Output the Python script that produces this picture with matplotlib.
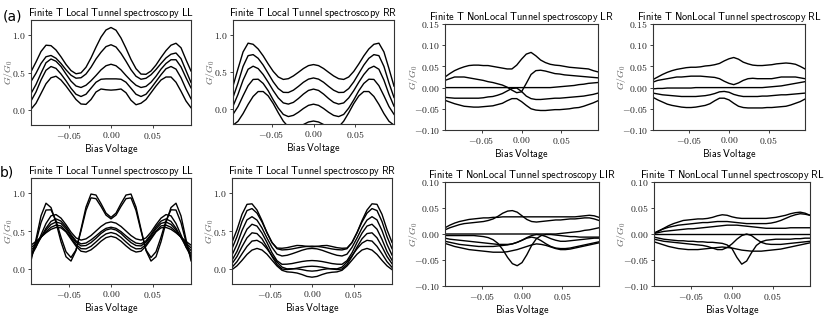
import matplotlib

matplotlib.use("Agg")

import matplotlib.pyplot as plt
from matplotlib.ticker import FuncFormatter

plt.rcParams["mathtext.fontset"] = "cm"

# bias grid shared by every curve
BIAS = [-0.096, -0.090, -0.084, -0.078, -0.072, -0.066, -0.060, -0.054, -0.048, -0.042, -0.036,
        -0.030, -0.024, -0.018, -0.012, -0.006, 0.0, 0.006, 0.012, 0.018, 0.024, 0.030,
        0.036, 0.042, 0.048, 0.054, 0.060, 0.066, 0.072, 0.078, 0.084, 0.090, 0.096]

# ---- row (a) ----
A_LL_1 = [0.01, 0.09, 0.22, 0.35, 0.43, 0.45, 0.40, 0.32, 0.23, 0.14, 0.08, 0.075, 0.14, 0.24, 0.28, 0.27, 0.265,
          0.27, 0.28, 0.23, 0.13, 0.07, 0.09, 0.14, 0.23, 0.32, 0.40, 0.44, 0.44, 0.37, 0.25, 0.12, 0.03]
A_LL_2 = [0.12, 0.24, 0.40, 0.53, 0.58, 0.555, 0.48, 0.39, 0.29, 0.21, 0.18, 0.21, 0.29, 0.37, 0.41, 0.415, 0.415,
          0.415, 0.41, 0.37, 0.29, 0.21, 0.18, 0.21, 0.29, 0.38, 0.47, 0.55, 0.58, 0.545, 0.43, 0.28, 0.15]
A_LL_3 = [0.22, 0.34, 0.49, 0.63, 0.68, 0.65, 0.58, 0.48, 0.385, 0.32, 0.30, 0.33, 0.39, 0.46, 0.535, 0.59, 0.61,
          0.59, 0.535, 0.46, 0.39, 0.33, 0.30, 0.315, 0.37, 0.45, 0.545, 0.62, 0.67, 0.67, 0.575, 0.43, 0.295]
A_LL_4 = [0.38, 0.49, 0.62, 0.71, 0.727, 0.69, 0.62, 0.536, 0.464, 0.424, 0.43, 0.48, 0.57, 0.68, 0.77, 0.845, 0.87,
          0.84, 0.755, 0.65, 0.537, 0.45, 0.41, 0.423, 0.47, 0.54, 0.62, 0.694, 0.744, 0.76, 0.685, 0.525, 0.367]
A_LL_5 = [0.51, 0.64, 0.78, 0.864, 0.858, 0.80, 0.709, 0.608, 0.526, 0.483, 0.495, 0.57, 0.694, 0.838, 0.972, 1.067,
          1.10, 1.064, 0.96, 0.823, 0.674, 0.551, 0.479, 0.476, 0.52, 0.60, 0.70, 0.792, 0.864, 0.89, 0.83, 0.67, 0.52]

A_RR_1 = [0.31, 0.545, 0.77, 0.888, 0.873, 0.81, 0.717, 0.608, 0.508, 0.433, 0.40, 0.41, 0.447, 0.496, 0.547, 0.586,
          0.60, 0.586, 0.547, 0.496, 0.447, 0.41, 0.40, 0.433, 0.508, 0.608, 0.717, 0.81, 0.873, 0.888, 0.77, 0.545, 0.31]
A_RR_2 = [0.157, 0.353, 0.575, 0.72, 0.734, 0.684, 0.593, 0.48, 0.367, 0.277, 0.226, 0.224, 0.255, 0.306, 0.362, 0.404,
          0.42, 0.404, 0.362, 0.306, 0.255, 0.224, 0.226, 0.277, 0.367, 0.48, 0.593, 0.684, 0.734, 0.72, 0.575, 0.353, 0.157]
A_RR_3 = [0.04, 0.20, 0.39, 0.537, 0.578, 0.546, 0.466, 0.362, 0.249, 0.151, 0.084, 0.068, 0.091, 0.143, 0.203, 0.252,
          0.27, 0.252, 0.203, 0.143, 0.091, 0.068, 0.084, 0.151, 0.249, 0.362, 0.466, 0.546, 0.578, 0.537, 0.39, 0.20, 0.04]
A_RR_4 = [-0.07, 0.035, 0.18, 0.316, 0.40, 0.403, 0.346, 0.247, 0.124, 0.014, -0.071, -0.10, -0.084, -0.042, 0.009, 0.051,
          0.067, 0.051, 0.009, -0.042, -0.084, -0.10, -0.071, 0.014, 0.124, 0.247, 0.346, 0.403, 0.40, 0.316, 0.18, 0.035, -0.07]
A_RR_5 = [-0.216, -0.163, -0.06, 0.064, 0.171, 0.237, 0.237, 0.178, 0.075, -0.049, -0.162, -0.239, -0.26, -0.242, -0.207,
          -0.173, -0.16, -0.173, -0.207, -0.242, -0.26, -0.239, -0.162, -0.049, 0.075, 0.178, 0.237, 0.237, 0.171, 0.064,
          -0.06, -0.163, -0.216]

A_LR_1 = [0.025, 0.033, 0.040, 0.045, 0.049, 0.052, 0.053, 0.053, 0.052, 0.052, 0.050, 0.048, 0.046, 0.044, 0.044, 0.053,
          0.067, 0.079, 0.083, 0.075, 0.065, 0.059, 0.055, 0.053, 0.052, 0.050, 0.048, 0.047, 0.046, 0.045, 0.044, 0.040, 0.037]
A_LR_2 = [0.017, 0.021, 0.025, 0.025, 0.025, 0.023, 0.021, 0.019, 0.017, 0.014, 0.012, 0.009, 0.006, 0.001, -0.006, -0.012,
          -0.010, 0.010, 0.031, 0.040, 0.041, 0.039, 0.036, 0.033, 0.032, 0.030, 0.029, 0.028, 0.027, 0.026, 0.025, 0.024, 0.023]
A_LR_3 = [0.0, 0.0, 0.0, 0.0, 0.0, 0.0, 0.0, 0.0, 0.0, 0.0, 0.0, 0.0, 0.0, 0.0, 0.0, 0.0, 0.0,
          0.0, 0.0, 0.0, 0.0, 0.0, 0.0, 0.001, 0.002, 0.003, 0.004, 0.005, 0.007, 0.008, 0.010, 0.011, 0.012]
A_LR_4 = [-0.023, -0.024, -0.025, -0.025, -0.025, -0.025, -0.025, -0.025, -0.024, -0.022, -0.021, -0.018, -0.014, -0.008,
          -0.002, -0.001, -0.009, -0.020, -0.026, -0.028, -0.028, -0.027, -0.026, -0.025, -0.025, -0.024, -0.023, -0.022,
          -0.021, -0.020, -0.018, -0.016, -0.013]
A_LR_5 = [-0.030, -0.034, -0.038, -0.041, -0.044, -0.045, -0.046, -0.046, -0.045, -0.044, -0.043, -0.040, -0.037, -0.031,
          -0.026, -0.026, -0.033, -0.042, -0.050, -0.053, -0.054, -0.054, -0.053, -0.052, -0.052, -0.051, -0.050, -0.048,
          -0.047, -0.044, -0.040, -0.036, -0.031]

A_RL_1 = [0.019, 0.025, 0.031, 0.036, 0.040, 0.043, 0.045, 0.047, 0.048, 0.048, 0.049, 0.051, 0.052, 0.054, 0.057, 0.063,
          0.068, 0.071, 0.067, 0.060, 0.056, 0.053, 0.052, 0.052, 0.053, 0.054, 0.056, 0.057, 0.058, 0.057, 0.055, 0.050, 0.044]
A_RL_2 = [0.013, 0.017, 0.019, 0.021, 0.023, 0.025, 0.025, 0.026, 0.027, 0.027, 0.027, 0.026, 0.025, 0.024, 0.021, 0.015,
          0.010, 0.007, 0.011, 0.017, 0.021, 0.022, 0.021, 0.021, 0.021, 0.021, 0.023, 0.025, 0.025, 0.025, 0.025, 0.023, 0.021]
A_RL_3 = [-0.003, -0.002, -0.002, -0.001, -0.001, -0.001, -0.001, -0.001, -0.001, 0.0, 0.0, 0.0, 0.0, 0.0, 0.0, 0.0, 0.0,
          0.0, 0.0, 0.0, 0.0, 0.0, 0.0, 0.0, 0.001, 0.002, 0.003, 0.004, 0.006, 0.008, 0.010, 0.012, 0.014]
A_RL_4 = [-0.013, -0.015, -0.017, -0.018, -0.019, -0.020, -0.021, -0.021, -0.021, -0.021, -0.020, -0.019, -0.017, -0.014,
          -0.010, -0.009, -0.011, -0.016, -0.019, -0.021, -0.021, -0.021, -0.021, -0.020, -0.020, -0.019, -0.018, -0.017,
          -0.017, -0.016, -0.015, -0.014, -0.013]
A_RL_5 = [-0.023, -0.029, -0.034, -0.039, -0.042, -0.044, -0.046, -0.047, -0.047, -0.046, -0.044, -0.042, -0.038, -0.031,
          -0.025, -0.025, -0.029, -0.037, -0.044, -0.047, -0.048, -0.048, -0.048, -0.048, -0.047, -0.047, -0.046, -0.045,
          -0.044, -0.041, -0.037, -0.033, -0.027]

# ---- row (b) ----
B_LL_1 = [0.106, 0.389, 0.70, 0.867, 0.81, 0.612, 0.358, 0.16, 0.103, 0.241, 0.523, 0.816, 0.988, 0.975, 0.862, 0.736,
          0.68, 0.736, 0.862, 0.975, 0.988, 0.816, 0.523, 0.241, 0.103, 0.16, 0.358, 0.612, 0.81, 0.867, 0.70, 0.389, 0.106]
B_LL_2 = [0.143, 0.354, 0.61, 0.777, 0.78, 0.638, 0.418, 0.226, 0.15, 0.25, 0.502, 0.772, 0.938, 0.927, 0.825, 0.71,
          0.66, 0.71, 0.825, 0.927, 0.938, 0.772, 0.502, 0.25, 0.15, 0.226, 0.418, 0.638, 0.78, 0.777, 0.61, 0.354, 0.143]
B_LL_3 = [0.164, 0.286, 0.448, 0.599, 0.70, 0.717, 0.67, 0.583, 0.485, 0.409, 0.38, 0.396, 0.44, 0.50, 0.56, 0.604,
          0.62, 0.604, 0.56, 0.50, 0.44, 0.396, 0.38, 0.409, 0.485, 0.583, 0.67, 0.717, 0.70, 0.599, 0.448, 0.286, 0.164]
B_LL_4 = [0.203, 0.292, 0.415, 0.537, 0.627, 0.66, 0.631, 0.554, 0.453, 0.37, 0.33, 0.341, 0.382, 0.435, 0.492, 0.535,
          0.55, 0.535, 0.492, 0.435, 0.382, 0.341, 0.33, 0.37, 0.453, 0.554, 0.631, 0.66, 0.627, 0.537, 0.415, 0.292, 0.203]
B_LL_5 = [0.242, 0.32, 0.418, 0.515, 0.587, 0.619, 0.60, 0.53, 0.436, 0.351, 0.303, 0.308, 0.347, 0.404, 0.467, 0.513,
          0.53, 0.513, 0.467, 0.404, 0.347, 0.308, 0.303, 0.351, 0.436, 0.53, 0.60, 0.619, 0.587, 0.515, 0.418, 0.32, 0.242]
B_LL_6 = [0.278, 0.34, 0.416, 0.491, 0.549, 0.578, 0.567, 0.50, 0.412, 0.322, 0.267, 0.264, 0.298, 0.355, 0.416, 0.462,
          0.48, 0.462, 0.416, 0.355, 0.298, 0.264, 0.267, 0.322, 0.412, 0.50, 0.567, 0.578, 0.549, 0.491, 0.416, 0.34, 0.278]
B_LL_7 = [0.314, 0.362, 0.42, 0.476, 0.522, 0.547, 0.542, 0.488, 0.393, 0.30, 0.233, 0.222, 0.251, 0.304, 0.365, 0.412,
          0.43, 0.412, 0.365, 0.304, 0.251, 0.222, 0.233, 0.30, 0.393, 0.488, 0.542, 0.547, 0.522, 0.476, 0.42, 0.362, 0.314]

B_RR_1 = [0.35, 0.517, 0.72, 0.852, 0.859, 0.777, 0.637, 0.477, 0.346, 0.275, 0.272, 0.28, 0.295, 0.309, 0.306, 0.296,
          0.29, 0.296, 0.306, 0.309, 0.295, 0.28, 0.272, 0.275, 0.346, 0.477, 0.637, 0.777, 0.859, 0.852, 0.72, 0.517, 0.35]
B_RR_2 = [0.267, 0.426, 0.625, 0.77, 0.796, 0.736, 0.619, 0.477, 0.348, 0.266, 0.25, 0.254, 0.263, 0.276, 0.288, 0.297,
          0.30, 0.297, 0.288, 0.276, 0.263, 0.254, 0.25, 0.266, 0.348, 0.477, 0.619, 0.736, 0.796, 0.77, 0.625, 0.426, 0.267]
B_RR_3 = [0.182, 0.324, 0.506, 0.647, 0.689, 0.644, 0.54, 0.407, 0.284, 0.194, 0.17, 0.179, 0.199, 0.222, 0.246, 0.264,
          0.27, 0.264, 0.246, 0.222, 0.199, 0.179, 0.17, 0.194, 0.284, 0.407, 0.54, 0.644, 0.689, 0.647, 0.506, 0.324, 0.182]
B_RR_4 = [0.114, 0.23, 0.389, 0.524, 0.589, 0.565, 0.472, 0.348, 0.212, 0.108, 0.06, 0.062, 0.07, 0.084, 0.097, 0.106,
          0.11, 0.106, 0.097, 0.084, 0.07, 0.062, 0.06, 0.108, 0.212, 0.348, 0.472, 0.565, 0.589, 0.524, 0.389, 0.23, 0.114]
B_RR_5 = [0.068, 0.163, 0.293, 0.41, 0.476, 0.466, 0.397, 0.287, 0.164, 0.058, -0.002, -0.009, -0.002, 0.009, 0.022, 0.031,
          0.035, 0.031, 0.022, 0.009, -0.002, -0.009, -0.002, 0.058, 0.164, 0.287, 0.397, 0.466, 0.476, 0.41, 0.293, 0.163, 0.068]
B_RR_6 = [0.021, 0.095, 0.199, 0.297, 0.367, 0.377, 0.34, 0.265, 0.174, 0.09, 0.023, 0.0, 0.002, 0.0, -0.01, -0.024,
          -0.03, -0.024, -0.01, 0.0, 0.002, 0.0, 0.023, 0.09, 0.174, 0.265, 0.34, 0.377, 0.367, 0.297, 0.199, 0.095, 0.021]
B_RR_7 = [-0.01, 0.04, 0.112, 0.191, 0.248, 0.27, 0.249, 0.193, 0.115, 0.038, -0.019, -0.04, -0.045, -0.055, -0.075, -0.10,
          -0.11, -0.10, -0.075, -0.055, -0.045, -0.04, -0.019, 0.038, 0.115, 0.193, 0.249, 0.27, 0.248, 0.191, 0.112, 0.04, -0.01]

B_LR_1 = [0.012, 0.017, 0.021, 0.024, 0.026, 0.028, 0.029, 0.030, 0.031, 0.031, 0.032, 0.032, 0.033, 0.033, 0.033, 0.033,
          0.033, 0.033, 0.033, 0.033, 0.033, 0.033, 0.033, 0.033, 0.033, 0.033, 0.033, 0.033, 0.034, 0.035, 0.036, 0.035, 0.032]
B_LR_2 = [0.008, 0.012, 0.015, 0.018, 0.020, 0.021, 0.022, 0.023, 0.024, 0.026, 0.029, 0.034, 0.040, 0.044, 0.045, 0.042,
          0.035, 0.028, 0.024, 0.023, 0.024, 0.025, 0.026, 0.027, 0.027, 0.028, 0.029, 0.029, 0.030, 0.031, 0.031, 0.029, 0.026]
B_LR_3 = [0.0, 0.0, 0.0, 0.0, 0.0, 0.0, 0.0, 0.0, 0.0, 0.0, 0.0, 0.0, 0.0, 0.0, 0.0, 0.0, 0.0,
          0.0, 0.0, 0.0, 0.0, 0.0, 0.0, 0.0, 0.001, 0.002, 0.003, 0.004, 0.005, 0.007, 0.008, 0.010, 0.012]
B_LR_4 = [-0.003, -0.003, -0.003, -0.003, -0.003, -0.003, -0.003, -0.004, -0.005, -0.007, -0.011, -0.018, -0.030, -0.045,
          -0.057, -0.061, -0.055, -0.040, -0.022, -0.009, -0.003, -0.001, -0.001, -0.002, -0.003, -0.004, -0.005, -0.005,
          -0.006, -0.006, -0.006, -0.006, -0.006]
B_LR_5 = [-0.008, -0.010, -0.011, -0.012, -0.013, -0.014, -0.015, -0.016, -0.017, -0.018, -0.019, -0.020, -0.020, -0.020,
          -0.019, -0.016, -0.012, -0.007, -0.003, -0.001, -0.002, -0.005, -0.009, -0.012, -0.014, -0.014, -0.013, -0.012,
          -0.011, -0.010, -0.009, -0.008, -0.008]
B_LR_6 = [-0.014, -0.016, -0.018, -0.020, -0.021, -0.022, -0.023, -0.024, -0.024, -0.024, -0.024, -0.023, -0.022, -0.021,
          -0.019, -0.016, -0.012, -0.008, -0.006, -0.008, -0.013, -0.019, -0.024, -0.027, -0.028, -0.028, -0.027, -0.025,
          -0.023, -0.021, -0.019, -0.017, -0.015]
B_LR_7 = [-0.018, -0.021, -0.024, -0.026, -0.028, -0.030, -0.031, -0.032, -0.033, -0.034, -0.035, -0.035, -0.035, -0.034,
          -0.032, -0.030, -0.027, -0.024, -0.021, -0.019, -0.020, -0.022, -0.025, -0.028, -0.030, -0.030, -0.029, -0.027,
          -0.025, -0.023, -0.021, -0.019, -0.017]

B_RL_1 = [0.001, 0.006, 0.011, 0.016, 0.020, 0.023, 0.026, 0.027, 0.028, 0.029, 0.029, 0.030, 0.032, 0.035, 0.037, 0.036,
          0.033, 0.031, 0.030, 0.030, 0.030, 0.030, 0.030, 0.030, 0.031, 0.032, 0.034, 0.036, 0.039, 0.041, 0.042, 0.040, 0.036]
B_RL_2 = [0.002, 0.006, 0.010, 0.013, 0.015, 0.017, 0.018, 0.019, 0.020, 0.021, 0.022, 0.022, 0.023, 0.024, 0.024, 0.024,
          0.023, 0.022, 0.021, 0.020, 0.020, 0.020, 0.020, 0.020, 0.021, 0.023, 0.026, 0.030, 0.034, 0.037, 0.039, 0.038, 0.036]
B_RL_3 = [0.001, 0.003, 0.005, 0.006, 0.007, 0.008, 0.009, 0.010, 0.010, 0.011, 0.012, 0.013, 0.014, 0.015, 0.016, 0.017,
          0.017, 0.017, 0.016, 0.015, 0.014, 0.013, 0.012, 0.011, 0.011, 0.011, 0.011, 0.011, 0.012, 0.012, 0.012, 0.012, 0.012]
B_RL_4 = [0.0, 0.0, 0.0, 0.0, 0.0, 0.0, 0.0, 0.0, 0.0, 0.0, 0.0, 0.0, 0.0, 0.0, 0.0, 0.0, 0.0,
          0.0, 0.0, 0.0, 0.0, 0.0, 0.0, 0.0, 0.0, 0.0, 0.0, 0.0, 0.0, 0.0, 0.0, 0.0, 0.0]
B_RL_5 = [-0.006, -0.008, -0.010, -0.011, -0.012, -0.013, -0.013, -0.014, -0.014, -0.015, -0.015, -0.016, -0.016, -0.017,
          -0.018, -0.021, -0.028, -0.045, -0.058, -0.052, -0.036, -0.022, -0.015, -0.012, -0.011, -0.010, -0.010, -0.010,
          -0.010, -0.009, -0.009, -0.008, -0.008]
B_RL_6 = [-0.010, -0.012, -0.014, -0.015, -0.016, -0.017, -0.018, -0.019, -0.020, -0.021, -0.022, -0.024, -0.027, -0.030,
          -0.030, -0.026, -0.019, -0.010, -0.003, 0.000, -0.003, -0.010, -0.016, -0.019, -0.020, -0.020, -0.020, -0.019,
          -0.018, -0.017, -0.016, -0.015, -0.014]
B_RL_7 = [-0.015, -0.018, -0.021, -0.024, -0.026, -0.028, -0.029, -0.030, -0.030, -0.030, -0.029, -0.028, -0.027, -0.026,
          -0.025, -0.026, -0.027, -0.029, -0.031, -0.032, -0.033, -0.033, -0.033, -0.032, -0.031, -0.030, -0.029, -0.027,
          -0.025, -0.023, -0.021, -0.019, -0.017]

LOCAL_YTICKS = [0.0, 0.5, 1.0]
NL_A_YTICKS = [-0.10, -0.05, 0.00, 0.05, 0.10, 0.15]
NL_B_YTICKS = [-0.10, -0.05, 0.00, 0.05, 0.10]
XTICKS = [-0.05, 0.0, 0.05]

W, H = 831, 320


def sf(text):
    # sans serif text in the computer-modern look of the original
    return r"$\mathsf{" + text.replace(" ", r"\ ") + "}$"


def rect(left, top, right, bottom):
    return [left / W, 1 - bottom / H, (right - left) / W, (bottom - top) / H]


# (axes box, title, y range, y ticks, decimals, title pad, ylabel x in axes units, curves)
panels = [
    (rect(31, 20, 191, 125), "Finite T Local Tunnel spectroscopy LL", (-0.2, 1.2), LOCAL_YTICKS, 1, 1.0, -0.1,
     [A_LL_1, A_LL_2, A_LL_3, A_LL_4, A_LL_5]),
    (rect(233, 20, 394, 124), "Finite T Local Tunnel spectroscopy RR", (-0.2, 1.2), LOCAL_YTICKS, 1, 1.0, -0.1,
     [A_RR_1, A_RR_2, A_RR_3, A_RR_4, A_RR_5]),
    (rect(445, 24, 598, 130), "Finite T NonLocal Tunnel spectroscopy LR", (-0.10, 0.15), NL_A_YTICKS, 2, 1.5, -0.165,
     [A_LR_1, A_LR_2, A_LR_3, A_LR_4, A_LR_5]),
    (rect(653, 24, 805, 130), "Finite T NonLocal Tunnel spectroscopy RL", (-0.10, 0.15), NL_A_YTICKS, 2, 1.5, -0.165,
     [A_RL_1, A_RL_2, A_RL_3, A_RL_4, A_RL_5]),
    (rect(31, 178, 191, 284), "Finite T Local Tunnel spectroscopy LL", (-0.2, 1.2), LOCAL_YTICKS, 1, 1.0, -0.1,
     [B_LL_1, B_LL_2, B_LL_3, B_LL_4, B_LL_5, B_LL_6, B_LL_7]),
    (rect(232, 178, 392, 284), "Finite T Local Tunnel spectroscopy RR", (-0.2, 1.2), LOCAL_YTICKS, 1, 1.0, -0.1,
     [B_RR_1, B_RR_2, B_RR_3, B_RR_4, B_RR_5, B_RR_6, B_RR_7]),
    (rect(445, 182, 599, 286), "Finite T NonLocal Tunnel spectroscopy LIR", (-0.10, 0.10), NL_B_YTICKS, 2, 2.0, -0.165,
     [B_LR_1, B_LR_2, B_LR_3, B_LR_4, B_LR_5, B_LR_6, B_LR_7]),
    (rect(654, 182, 810, 286), "Finite T NonLocal Tunnel spectroscopy RL", (-0.10, 0.10), NL_B_YTICKS, 2, 2.0, -0.165,
     [B_RL_1, B_RL_2, B_RL_3, B_RL_4, B_RL_5, B_RL_6, B_RL_7]),
]

fig = plt.figure(figsize=(W / 100, H / 100), dpi=100)

for pos, title, ylim, yticks, ndec, tpad, ylab_x, curves in panels:
    ax = fig.add_axes(pos)
    for g in curves:
        ax.plot(BIAS, g, color="black", linewidth=1.0)
    ax.set_xlim(BIAS[0], BIAS[-1])
    ax.set_ylim(*ylim)
    ax.set_xticks(XTICKS)
    ax.set_yticks(yticks)
    ax.xaxis.set_major_formatter(FuncFormatter(lambda v, p: f"${v:.2f}$"))
    ax.yaxis.set_major_formatter(FuncFormatter(lambda v, p, n=ndec: f"${v:.{n}f}$"))
    ax.tick_params(labelsize=7, length=2, width=0.6, pad=1.5, colors="#222222")
    for s in ax.spines.values():
        s.set_linewidth(0.8)
        s.set_color("#333333")
    ax.set_title(sf(title), fontsize=7.4, pad=tpad)
    ax.set_xlabel(sf("Bias Voltage"), fontsize=7.3, labelpad=0.5)
    ax.set_ylabel(r"$G/G_0$", fontsize=7, color="#555555")
    ax.yaxis.set_label_coords(ylab_x, 0.5)

fig.text(3 / W, 1 - 17 / H, "(a)", fontsize=10, va="center", ha="left", family="DejaVu Sans")
fig.text(0 / W, 1 - 173 / H, "b)", fontsize=10, va="center", ha="left", family="DejaVu Sans")

fig.savefig("out.png", dpi=100)
